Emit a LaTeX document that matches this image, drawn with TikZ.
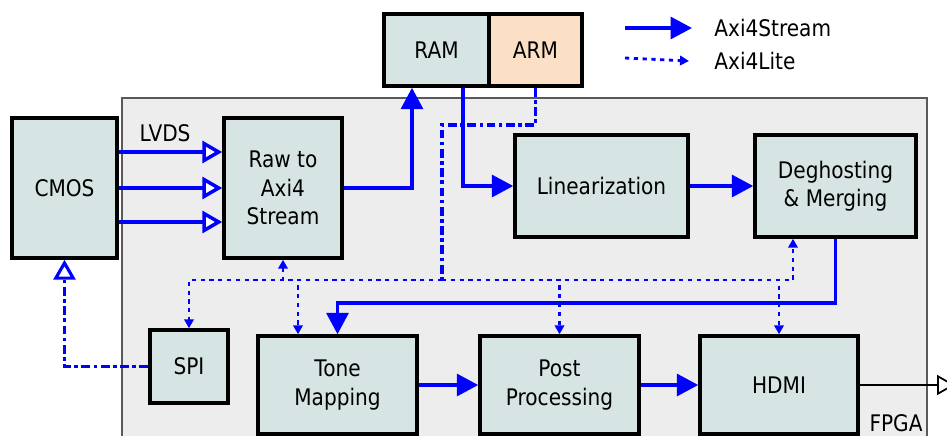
\documentclass[tikz,border=0pt]{standalone}
\usepackage{fontspec}
\setmainfont{DejaVu Sans}[FakeStretch=0.88]
\usetikzlibrary{arrows.meta}
\definecolor{blockfill}{RGB}{214,228,228}
\definecolor{armfill}{RGB}{252,224,198}
\definecolor{fpgafill}{RGB}{237,237,237}
\newcommand{\blkfont}{\fontsize{13}{16.2}\selectfont}
\tikzset{
  block/.style  = {draw, line width=2pt, fill=blockfill, align=center, font=\blkfont, inner sep=2pt},
  stream/.style = {-{Triangle[length=4.3mm, width=4.4mm]}, blue, line width=2pt},
  lite/.style   = {-{Triangle[length=1.8mm, width=1.9mm]}, blue, line width=1.6pt, dash pattern=on 2.4pt off 2.6pt},
  ctrl/.style   = {blue, line width=1.8pt, dash pattern=on 5pt off 2pt on 2pt off 2pt},
  lvds/.style   = {-{Triangle[open, fill=white, length=4mm, width=4.4mm]}, blue, line width=2pt},
  lbl/.style    = {font=\blkfont, inner sep=0pt},
}

\begin{document}
\begin{tikzpicture}[x=0.02cm, y=-0.02cm]
  \useasboundingbox (0,0) rectangle (947,436);
  % FPGA area
  \draw[gray!70!black, line width=0.8pt, fill=fpgafill] (122,98) rectangle (927,450);
  \node[lbl] (fpga) at (896,423) {FPGA};

  % blocks
  \node[block, minimum width=2.1cm, minimum height=2.8cm] (cmos) at (64.5,188) {CMOS};
  \node[block, minimum width=2.36cm, minimum height=2.8cm] (raw) at (283,188) {Raw to\\Axi4\\Stream};
  \node[block, minimum width=2.1cm, minimum height=1.44cm] (ram) at (436.5,50) {RAM};
  \node[block, fill=armfill, minimum width=1.86cm, minimum height=1.44cm] (arm) at (535.5,50) {ARM};
  \node[block, minimum width=3.46cm, minimum height=2.04cm] (lin) at (601.5,186) {Linearization};
  \node[block, minimum width=3.22cm, minimum height=2.04cm] (deg) at (835.5,186) {Deghosting\\\& Merging};
  \node[block, minimum width=1.56cm, minimum height=1.46cm] (spi) at (189,366.5) {SPI};
  \node[block, minimum width=3.18cm, minimum height=1.96cm] (tone) at (337.5,385) {Tone\\Mapping};
  \node[block, minimum width=3.18cm, minimum height=1.96cm] (post) at (559.5,385) {Post\\Processing};
  \node[block, minimum width=3.16cm, minimum height=1.96cm] (hdmi) at (779,385) {HDMI};

  % LVDS lanes
  \node[lbl] (lvdslbl) at (165,133) {LVDS};
  \foreach \yy in {152,188,222}
    \draw[lvds] (cmos.east |- 0,\yy) -- (raw.west |- 0,\yy);

  % stream path
  \draw[stream] (raw.east) -| (412,0 |- ram.south);
  \draw[stream] (463,0 |- ram.south) |- (lin.west);
  \draw[stream] (lin.east) -- (deg.west);
  \draw[stream] (deg.south) -- ++(0,64) -| (tone.north);
  \draw[stream] (tone.east) -- (post.west);
  \draw[stream] (post.east) -- (hdmi.west);
  \coordinate (hdmiout) at (955,385);
  \draw[black, line width=1pt, -{Triangle[open, fill=white, length=3.6mm, width=4mm]}] (hdmi.east) -- (hdmiout);

  % control bus
  \coordinate (bus) at (442,280);
  \draw[ctrl] (arm.south) |- (442,125) -- (bus);
  \draw[lite] (bus) -| (spi.north);
  \draw[lite] (bus) -| (raw.south);
  \draw[lite] (bus) -| (tone.north -| 298,0);
  \draw[lite] (bus) -| (post.north);
  \draw[lite] (bus) -| (hdmi.north);
  \draw[lite] (bus) -| (793,0 |- deg.south);
  \draw[ctrl, -{Triangle[open, fill=white, length=4mm, width=4.4mm]}] (spi.west) -| (cmos.south);

  % legend
  \coordinate (lgs) at (625,28);
  \coordinate (lgl) at (625,58);
  \node[lbl, anchor=west] (tstream) at (714,28) {Axi4Stream};
  \node[lbl, anchor=west] (tlite) at (714,61) {Axi4Lite};
  \draw[stream] (lgs) -- ([xshift=-0.44cm]tstream.west);
  \draw[lite] (lgl) -- ([xshift=-0.5cm]tlite.west);
\end{tikzpicture}
\end{document}
